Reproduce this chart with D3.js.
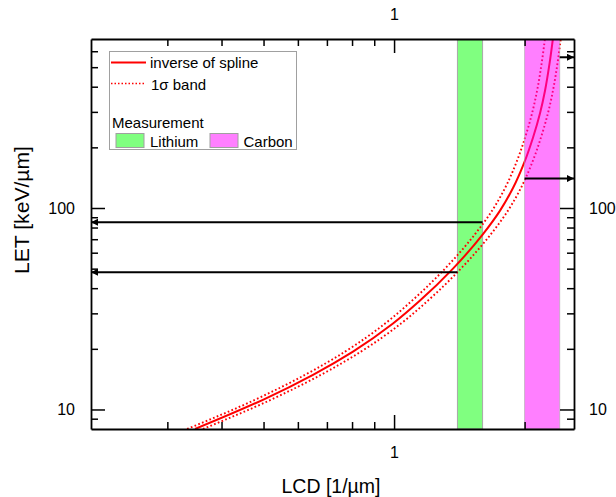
<!DOCTYPE html>
<html>
<head>
<meta charset="utf-8">
<script src="https://d3js.org/d3.v7.min.js"></script>
<style>
  body { margin: 0; background: #fff; }
  text { font-family: "Liberation Sans", Arial, sans-serif; fill: #000; }
</style>
</head>
<body>
<svg id="chart" width="616" height="497"></svg>
<script>
// LET values along the curve [keV/um]
const letValues = [8.0, 11.17, 14.86, 19.37, 26.69, 34.70, 50.03, 74.21, 97.05, 126.0, 169.4, 223.3, 295.4, 382.1, 520.3, 690]
// LCD of the inverse spline and of the 1 sigma band edges [1/um]
const lcdFit   = [0.3475, 0.4984, 0.6502, 0.8041, 0.9943, 1.1477, 1.3674, 1.6036, 1.7555, 1.8816, 1.9992, 2.0909, 2.1707, 2.2290, 2.2830, 2.3240]
const lcdUpper = [0.3332, 0.4779, 0.6234, 0.7709, 0.9533, 1.1004, 1.3110, 1.5375, 1.6831, 1.8040, 1.9168, 2.0047, 2.0812, 2.1371, 2.1889, 2.2280]
const lcdLower = [0.3624, 0.5198, 0.6782, 0.8387, 1.0371, 1.1971, 1.4262, 1.6726, 1.8310, 1.9625, 2.0852, 2.1808, 2.2640, 2.3248, 2.3812, 2.4230]

// measured LCD ranges
const bandNames = ['Lithium', 'Carbon']
const bandLo = [1.40, 2.00]
const bandHi = [1.60, 2.41]
const bandColors = ['#80ff80', '#ff00ff']

// resulting LET ranges (arrows)
const lithiumLET = [48, 85]
const carbonLET = [140, 560]

const xTicks = [0.3, 0.4, 0.5, 0.6, 0.7, 0.8, 0.9, 1, 2]
const xMajor = [1]
const yTicks = [9, 10, 20, 30, 40, 50, 60, 70, 80, 90, 100, 200, 300, 400, 500, 600]
const yMajor = [10, 100]

const L = 91, R = 574, T = 39, B = 429
const svg = d3.select('#chart')

const x = d3.scaleLog().domain([0.2, 2.6]).range([L, R])
const y = d3.scaleLog().domain([8, 690]).range([B, T])

const defs = svg.append('defs')
defs.append('clipPath').attr('id', 'clip')
  .append('rect').attr('x', L).attr('y', T).attr('width', R - L).attr('height', B - T)
defs.append('marker').attr('id', 'arrow')
  .attr('viewBox', '0 0 10 10').attr('refX', 10).attr('refY', 5)
  .attr('markerWidth', 9).attr('markerHeight', 7)
  .attr('markerUnits', 'userSpaceOnUse').attr('orient', 'auto')
  .append('path').attr('d', 'M0,0L10,5L0,10Z').attr('fill', '#000')

const plot = svg.append('g').attr('clip-path', 'url(#clip)')

// lithium band (below the curves)
plot.append('rect')
  .attr('x', x(bandLo[0])).attr('y', T)
  .attr('width', x(bandHi[0]) - x(bandLo[0])).attr('height', B - T)
  .attr('fill', bandColors[0]).attr('stroke', '#a8a8a8').attr('stroke-width', 1)

const line = d3.line().x(d => x(d[0])).y(d => y(d[1])).curve(d3.curveMonotoneY)

plot.append('path').datum(d3.zip(lcdUpper, letValues)).attr('d', line)
  .attr('fill', 'none').attr('stroke', '#ff0000').attr('stroke-width', 1.9).attr('stroke-dasharray', '1.7,2.3')
plot.append('path').datum(d3.zip(lcdLower, letValues)).attr('d', line)
  .attr('fill', 'none').attr('stroke', '#ff0000').attr('stroke-width', 1.9).attr('stroke-dasharray', '1.7,2.3')
plot.append('path').datum(d3.zip(lcdFit, letValues)).attr('d', line)
  .attr('fill', 'none').attr('stroke', '#ff0000').attr('stroke-width', 2)

// carbon band, half transparent over the curves
plot.append('rect')
  .attr('x', x(bandLo[1])).attr('y', T)
  .attr('width', x(bandHi[1]) - x(bandLo[1])).attr('height', B - T)
  .attr('fill', bandColors[1]).attr('fill-opacity', 0.5)
  .attr('stroke', '#a8a8a8').attr('stroke-opacity', 0.6).attr('stroke-width', 1)

// arrows from the band edges to the LET axes
const arrows = [
  [bandLo[0], lithiumLET[0], L],
  [bandHi[0], lithiumLET[1], L],
  [bandLo[1], carbonLET[0], R],
  [bandHi[1], carbonLET[1], R]
]
svg.append('g').selectAll('line').data(arrows).join('line')
  .attr('x1', d => x(d[0])).attr('x2', d => d[2])
  .attr('y1', d => y(d[1])).attr('y2', d => y(d[1]))
  .attr('stroke', '#000').attr('stroke-width', 2)
  .attr('marker-end', 'url(#arrow)')

// axes
function styleAxis(g, majors, sign, horiz) {
  g.select('.domain').attr('stroke', '#000').attr('stroke-width', 1.8)
  g.selectAll('.tick line').attr('stroke', '#000').attr('stroke-width', 1.5)
    .attr(horiz ? 'y2' : 'x2', d => sign * (majors.includes(d) ? 14 : 7))
  g.selectAll('.tick text').style('font-size', '16px').style('font-family', '"Liberation Sans", Arial, sans-serif')
}
const fmtX = d => xMajor.includes(d) ? '1' : ''
const fmtY = d => yMajor.includes(d) ? String(d) : ''

svg.append('g').attr('transform', `translate(0,${B})`)
  .call(d3.axisBottom(x).tickValues(xTicks).tickSizeInner(-7).tickSizeOuter(0).tickPadding(18).tickFormat(fmtX))
  .call(g => styleAxis(g, xMajor, -1, true))
svg.append('g').attr('transform', `translate(0,${T})`)
  .call(d3.axisTop(x).tickValues(xTicks).tickSizeInner(-7).tickSizeOuter(0).tickPadding(19).tickFormat(fmtX))
  .call(g => styleAxis(g, xMajor, 1, true))
svg.append('g').attr('transform', `translate(${L},0)`)
  .call(d3.axisLeft(y).tickValues(yTicks).tickSizeInner(-7).tickSizeOuter(0).tickPadding(16).tickFormat(fmtY))
  .call(g => styleAxis(g, yMajor, 1, false))
svg.append('g').attr('transform', `translate(${R},0)`)
  .call(d3.axisRight(y).tickValues(yTicks).tickSizeInner(-7).tickSizeOuter(0).tickPadding(15).tickFormat(fmtY))
  .call(g => styleAxis(g, yMajor, -1, false))

// axis titles
svg.append('text').attr('x', 331).attr('y', 493).attr('text-anchor', 'middle')
  .style('font-size', '19.5px').text('LCD [1/µm]')
svg.append('text').attr('transform', 'translate(28.5,210) rotate(-90)').attr('text-anchor', 'middle')
  .style('font-size', '20px').attr('textLength', 128).attr('lengthAdjust', 'spacingAndGlyphs')
  .text('LET [keV/µm]')

// legend
const lg = svg.append('g')
lg.append('rect').attr('x', 109.5).attr('y', 51.5).attr('width', 187).attr('height', 98)
  .attr('fill', '#fff').attr('stroke', '#a0a0a0').attr('stroke-width', 1)
lg.append('line').attr('x1', 111).attr('x2', 146).attr('y1', 62.5).attr('y2', 62.5)
  .attr('stroke', '#ff0000').attr('stroke-width', 2)
lg.append('text').attr('x', 150).attr('y', 68).style('font-size', '15px').text('inverse of spline')
lg.append('line').attr('x1', 111).attr('x2', 146).attr('y1', 83.5).attr('y2', 83.5)
  .attr('stroke', '#ff0000').attr('stroke-width', 1.6).attr('stroke-dasharray', '1.5,2')
const t2 = lg.append('text').attr('x', 151).attr('y', 89.5).style('font-size', '15px')
t2.append('tspan').text('1')
t2.append('tspan').text('σ')
t2.append('tspan').text(' band')
lg.append('text').attr('x', 112).attr('y', 127.5).style('font-size', '15px').text('Measurement')
const swX = [116, 210]
const txX = [150, 243.5]
bandNames.forEach((name, i) => {
  lg.append('rect').attr('x', swX[i]).attr('y', 133.5).attr('width', 28).attr('height', 14)
    .attr('fill', bandColors[i]).attr('fill-opacity', i === 1 ? 0.5 : 1)
    .attr('stroke', '#a0a0a0').attr('stroke-width', 1)
  lg.append('text').attr('x', txX[i]).attr('y', 146.5).style('font-size', '15px').text(name)
})
</script>
</body>
</html>
